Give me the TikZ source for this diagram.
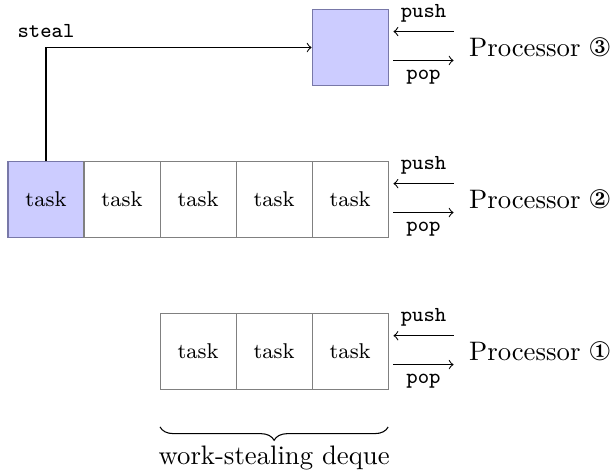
\documentclass[tikz,border=0pt]{standalone}
\usepackage{tikz}
\usetikzlibrary{decorations.pathreplacing}
\usepackage{pifont}
\usepackage{xcolor}
\definecolor{stolenfill}{HTML}{CCCCFF}
\definecolor{stolenedge}{HTML}{7878A8}

\begin{document}
\begin{tikzpicture}[font=\normalsize,
    cell/.style={draw=gray, minimum size=1cm, inner sep=0pt, font=\footnotesize},
    stolen/.style={cell, fill=stolenfill, draw=stolenedge},
    op/.style={font=\ttfamily\footnotesize},
  ]
  \useasboundingbox (-0.605,-1.6) rectangle (7.47,4.625);

  % processor 3 has run dry
  \node[stolen] (top) at (4,4) {};
  % processor 2, its oldest task gets stolen
  \node[stolen] (mid0) at (0,2) {task};
  \foreach \i in {1,...,4}
    \node[cell] (mid\i) at (\i,2) {task};
  % processor 1
  \foreach \i in {2,3,4}
    \node[cell] (low\i) at (\i,0) {task};

  % push/pop on the right end of every deque
  \foreach \end/\y/\num in {top/4/174, mid4/2/173, low4/0/172} {
    \coordinate (\end-pushfrom) at (5.36,\y+0.21);
    \coordinate (\end-pushto) at (4.57,\y+0.21);
    \coordinate (\end-popfrom) at (4.57,\y-0.17);
    \coordinate (\end-popto) at (5.36,\y-0.17);
    \draw[->] (\end-pushfrom) -- node[above, op] {push} (\end-pushto);
    \draw[->] (\end-popfrom) -- node[below, op] {pop} (\end-popto);
    \node[anchor=west] (proc\num) at (5.44,\y) {Processor \ding{\num}};
  }

  \draw[->] (mid0.north) |- node[pos=0.5, above, op] {steal} (top.west);

  \coordinate (braceleft) at (1.5,-0.99);
  \coordinate (braceright) at (4.5,-0.99);
  \draw[decorate, decoration={brace, mirror, amplitude=5pt}] (braceleft) -- (braceright);
  \node (dequelabel) at (3,-1.4) {work-stealing deque};
\end{tikzpicture}
\end{document}
